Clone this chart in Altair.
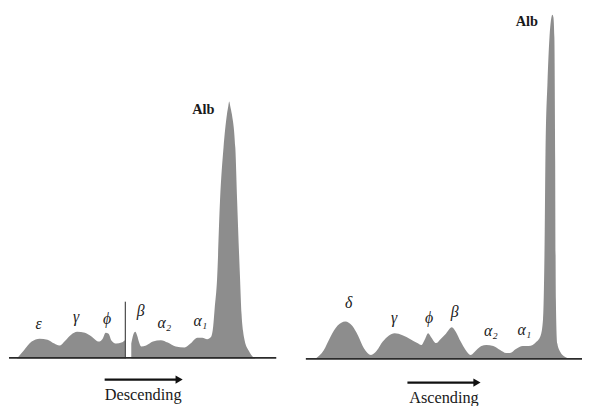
import altair as alt
import pandas as pd

# ---- profile data (position along cell, height above baseline) ----
# Descending boundary, part before the starting-boundary spike
desc_a_pos = [17, 24, 32, 40, 48, 55, 60, 66, 72, 78, 86, 93, 100, 104, 107, 110, 113, 118, 123, 127]
desc_a_h   = [0, 8, 17, 20, 19, 15, 13, 18, 24, 27, 26, 22, 17, 20, 26, 25, 18, 15, 16, 19]
# Descending boundary, part after the spike (beta ... albumin)
desc_b_pos = [133, 135, 137, 139, 141, 143, 148, 155, 163, 170, 178, 187, 193, 200, 205, 210, 214,
              216, 217.5, 220, 223, 226.5, 230, 231.4, 232.3, 233.3, 235, 238.5, 240.3, 243.3,
              244.8, 246.3, 248, 252, 257, 259]
desc_b_h   = [15, 24, 27, 23, 16, 12, 13, 17, 18.5, 16, 12, 11, 15, 21, 21, 19.5, 22,
              32, 50, 80.5, 160.5, 213.5, 247.5, 256, 260.5, 256, 247.5, 213.5, 160.5, 80.5,
              45, 28, 18, 8, 1, 0]
# Ascending boundary
asc_pos = [320, 328, 335, 342, 350, 357, 363, 369, 376, 382, 388, 394, 400, 408, 416, 423, 427, 431,
           434, 437, 442, 447, 452, 458, 462, 467, 472, 477, 483, 488, 493, 500, 507, 513, 517, 523,
           530, 536, 540, 544, 548, 550.5, 552, 553, 555, 557, 559, 560, 561, 562, 562.8, 563.5,
           565, 568, 573, 577]
asc_h   = [0, 8, 22, 33, 37.5, 33, 23, 10, 3.5, 8, 17, 23, 25.5, 23.5, 19.5, 15.5, 13.5, 20,
           25.5, 21.5, 15.5, 20, 25, 31.5, 27, 17, 8.5, 3.5, 8.5, 12.5, 13.5, 12.5, 8.5, 5.5, 5.5, 9.5,
           12.5, 12.5, 13.5, 17, 23, 40, 110, 210, 280, 325, 346, 348.5, 346, 325, 200, 60,
           15, 6.5, 1.5, 0]

# spike (starting boundary) in descending pattern
spike_pos = [127]
spike_h = [57.5]

# baselines
base_start = [9, 310]
base_end = [280, 590]
base_h = [0.5, -0.5]

# peak labels
greek_labels = ["ε", "γ", "ϕ", "β", "α₂", "α₁", "δ", "γ", "ϕ", "β", "α₂", "α₁"]
greek_pos    = [39, 77, 108.5, 142.5, 166.5, 203, 353.5, 399.5, 435, 461, 497.5, 531.5]
greek_h      = [29.5, 37, 34.5, 42.5, 31, 32.5, 51.5, 35.5, 35.5, 41.5, 22.5, 23.5]
alb_pos = [206, 534]
alb_h = [247.5, 337.5]

# arrows and captions
arrow_start = [106, 413]
arrow_end = [180, 481]
arrow_head = [181.5, 483.5]
arrow_h = [-21.5, -24.5]
caption_text = ["Descending", "Ascending"]
caption_pos = [145, 450]
caption_h = [-42, -45]

W, H = 582, 398
xs = alt.Scale(domain=[8, 590], zero=False, nice=False)
ys = alt.Scale(domain=[-45.5, 352.5], zero=False, nice=False)


def profile(pos, h):
    df = pd.DataFrame({"pos": pos, "h": h})
    return alt.Chart(df).mark_area(interpolate="monotone", color="#8d8d8d", opacity=1).encode(
        x=alt.X("pos:Q", scale=xs, axis=None),
        y=alt.Y("h:Q", scale=ys, axis=None, stack=None),
    )


base_df = pd.DataFrame({"x1": base_start, "x2": base_end, "h": base_h})
spike_df = pd.DataFrame({"pos": spike_pos, "h0": [0] * len(spike_pos), "h": spike_h})
greek_df = pd.DataFrame({"pos": greek_pos, "h": greek_h, "label": greek_labels})
alb_df = pd.DataFrame({"pos": alb_pos, "h": alb_h, "label": ["Alb", "Alb"]})
arrow_df = pd.DataFrame({"x1": arrow_start, "x2": arrow_end, "head": arrow_head, "h": arrow_h})
cap_df = pd.DataFrame({"pos": caption_pos, "h": caption_h, "label": caption_text})

areas = [profile(desc_a_pos, desc_a_h), profile(desc_b_pos, desc_b_h), profile(asc_pos, asc_h)]

base = alt.Chart(base_df).mark_rule(color="#2b2b2b", strokeWidth=1.6).encode(
    x=alt.X("x1:Q", scale=xs, axis=None), x2="x2:Q",
    y=alt.Y("h:Q", scale=ys, axis=None),
)

spike = alt.Chart(spike_df).mark_rule(color="#555555", strokeWidth=1.3).encode(
    x=alt.X("pos:Q", scale=xs, axis=None),
    y=alt.Y("h0:Q", scale=ys, axis=None), y2="h:Q",
)

greek = alt.Chart(greek_df).mark_text(
    font="Liberation Serif", fontSize=16, fontStyle="italic", baseline="alphabetic",
    align="center", color="#1a1a1a",
).encode(
    x=alt.X("pos:Q", scale=xs, axis=None),
    y=alt.Y("h:Q", scale=ys, axis=None),
    text="label:N",
)

alb = alt.Chart(alb_df).mark_text(
    font="Liberation Serif", fontSize=14.5, fontWeight="bold", baseline="alphabetic",
    align="center", color="#1a1a1a",
).encode(
    x=alt.X("pos:Q", scale=xs, axis=None),
    y=alt.Y("h:Q", scale=ys, axis=None),
    text="label:N",
)

arrow_line = alt.Chart(arrow_df).mark_rule(color="#111111", strokeWidth=2.2).encode(
    x=alt.X("x1:Q", scale=xs, axis=None), x2="x2:Q",
    y=alt.Y("h:Q", scale=ys, axis=None),
)
arrow_tip = alt.Chart(arrow_df).mark_point(
    shape="triangle-right", filled=True, color="#111111", size=70, opacity=1,
).encode(
    x=alt.X("head:Q", scale=xs, axis=None),
    y=alt.Y("h:Q", scale=ys, axis=None),
)

captions = alt.Chart(cap_df).mark_text(
    font="Liberation Serif", fontSize=16.5, baseline="alphabetic", align="center", color="#1a1a1a",
).encode(
    x=alt.X("pos:Q", scale=xs, axis=None),
    y=alt.Y("h:Q", scale=ys, axis=None),
    text="label:N",
)

chart = alt.layer(*areas, spike, base, greek, alb, arrow_line, arrow_tip, captions).properties(
    width=W, height=H, padding=0, autosize=alt.AutoSizeParams(type="none"),
    background="white",
).configure_view(stroke=None)

chart.save("out.html", embed_options={"renderer": "svg", "actions": False})
